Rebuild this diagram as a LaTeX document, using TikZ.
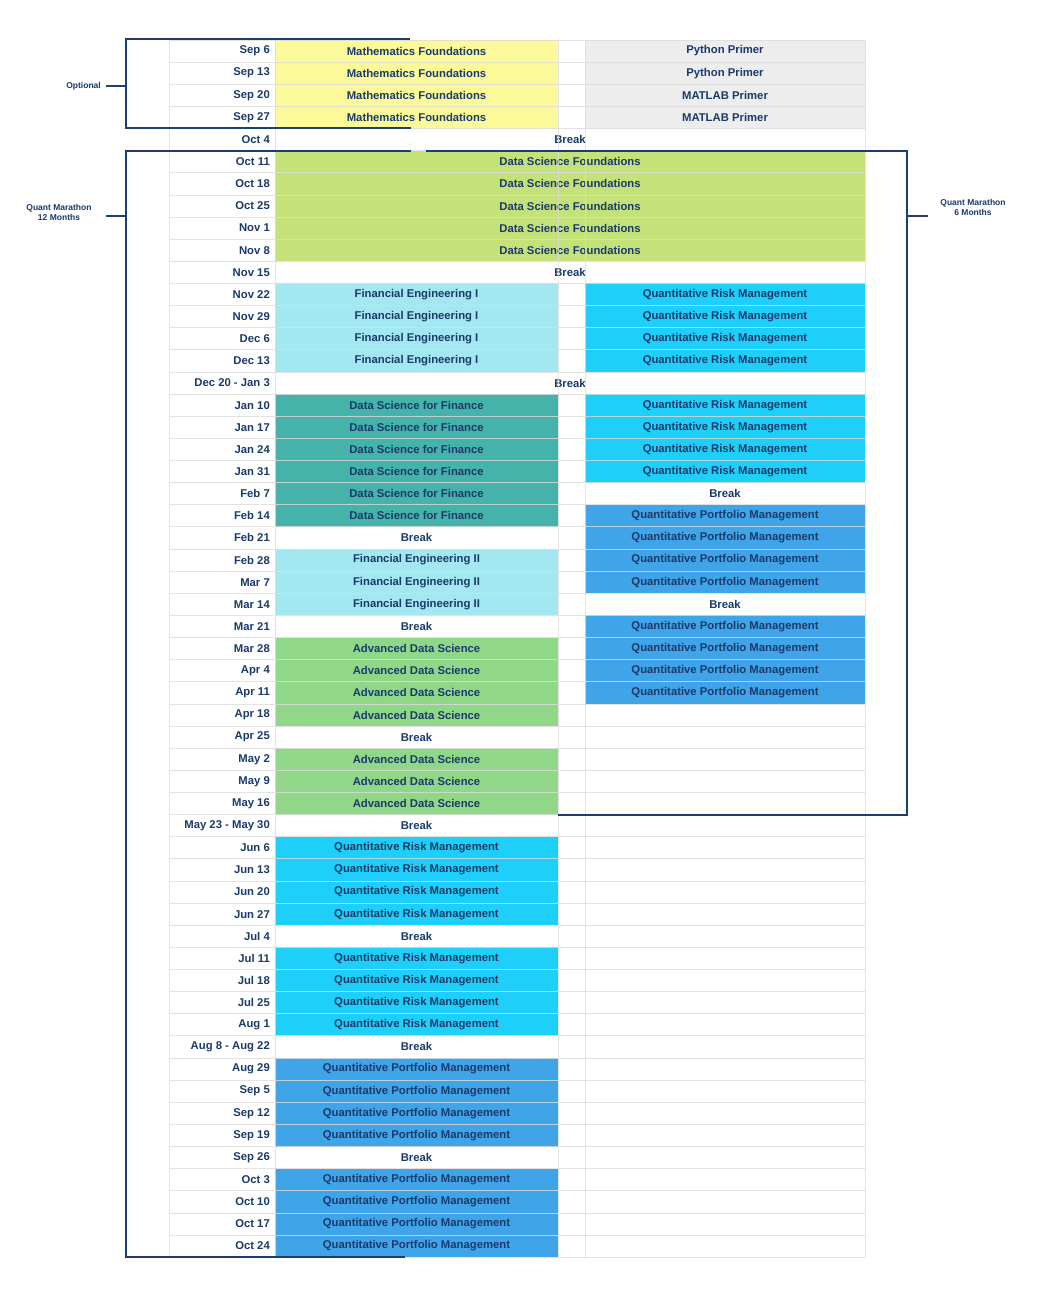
\documentclass[tikz,border=0pt]{standalone}
\usepackage{fontspec}
\setmainfont{Liberation Sans}
\definecolor{txt}{HTML}{1A3A6B}
\definecolor{cYel}{HTML}{FBF99A}
\definecolor{cGry}{HTML}{EDEDED}
\definecolor{cDSF}{HTML}{C5E17A}
\definecolor{cFE}{HTML}{A3E8F0}
\definecolor{cQRM}{HTML}{1DCFF9}
\definecolor{cDSfF}{HTML}{45B3AA}
\definecolor{cADS}{HTML}{90D888}
\definecolor{cQPM}{HTML}{3FA4E8}
\definecolor{grid}{HTML}{DCDCDC}
\definecolor{brk}{HTML}{1B3F6E}
\newcommand\ry[1]{{40+(#1-0.5)*22.13}}
\newcommand\cA[3]{\node[cell,fill=#2,minimum width=283pt] (a#1) at (416.5,\ry{#1}) {#3};}
\newcommand\cB[3]{\node[cell,fill=#2,minimum width=280pt] (b#1) at (725,\ry{#1}) {#3};}
\newcommand\cAll[3]{\node[cell,fill=#2,minimum width=590pt] (c#1) at (570,\ry{#1}) {#3};}
\begin{document}
\begin{tikzpicture}[x=1pt,y=-1pt,
  cell/.style={inner sep=0pt,minimum height=22.13pt,text=txt,font=\fontsize{11.3}{13}\selectfont\bfseries},
  datel/.style={anchor=east,inner sep=0pt,text=txt,font=\fontsize{11.3}{13}\selectfont\bfseries},
  side/.style={align=center,text=txt,inner sep=0pt,font=\fontsize{8.5}{10}\selectfont\bfseries},
  brack/.style={draw=brk,line width=1.6pt}]
\useasboundingbox (0,0) rectangle (1046,1292);
\fill[white] (0,0) rectangle (1046,1292);
% cells
\foreach \i/\t in {1/Python Primer,2/Python Primer,3/MATLAB Primer,4/MATLAB Primer}{\cA{\i}{cYel}{Mathematics Foundations}\cB{\i}{cGry}{\t}}
\foreach \i in {5,11,16}{\cAll{\i}{white}{Break}}
\foreach \i in {6,...,10}{\cAll{\i}{cDSF}{Data Science Foundations}}
\foreach \i in {12,...,15}{\cA{\i}{cFE}{Financial Engineering I}\cB{\i}{cQRM}{Quantitative Risk Management}}
\foreach \i in {17,...,22}{\cA{\i}{cDSfF}{Data Science for Finance}}
\foreach \i in {17,...,20}{\cB{\i}{cQRM}{Quantitative Risk Management}}
\foreach \i in {21,26}{\cB{\i}{white}{Break}}
\foreach \i in {22,...,25,27,28,29,30}{\cB{\i}{cQPM}{Quantitative Portfolio Management}}
\foreach \i in {23,27,32,36,41,46,51}{\cA{\i}{white}{Break}}
\foreach \i in {24,25,26}{\cA{\i}{cFE}{Financial Engineering II}}
\foreach \i in {28,...,31,33,34,35}{\cA{\i}{cADS}{Advanced Data Science}}
\foreach \i in {37,...,40,42,43,44,45}{\cA{\i}{cQRM}{Quantitative Risk Management}}
\foreach \i in {47,...,50,52,53,54,55}{\cA{\i}{cQPM}{Quantitative Portfolio Management}}
% dates
\foreach \i/\d in {1/Sep 6,2/Sep 13,3/Sep 20,4/Sep 27,5/Oct 4,6/Oct 11,7/Oct 18,8/Oct 25,9/Nov 1,10/Nov 8,11/Nov 15,12/Nov 22,13/Nov 29,14/Dec 6,15/Dec 13,16/Dec 20 - Jan 3,17/Jan 10,18/Jan 17,19/Jan 24,20/Jan 31,21/Feb 7,22/Feb 14,23/Feb 21,24/Feb 28,25/Mar 7,26/Mar 14,27/Mar 21,28/Mar 28,29/Apr 4,30/Apr 11,31/Apr 18,32/Apr 25,33/May 2,34/May 9,35/May 16,36/May 23 - May 30,37/Jun 6,38/Jun 13,39/Jun 20,40/Jun 27,41/Jul 4,42/Jul 11,43/Jul 18,44/Jul 25,45/Aug 1,46/Aug 8 - Aug 22,47/Aug 29,48/Sep 5,49/Sep 12,50/Sep 19,51/Sep 26,52/Oct 3,53/Oct 10,54/Oct 17,55/Oct 24}
  {\node[datel] (d\i) at (270,\ry{\i}) {\d};}
% grid
\foreach \i in {0,...,55}{\draw[grid,line width=0.8pt,opacity=0.8] (169,{40+\i*22.13}) -- (865,{40+\i*22.13});}
\foreach \x in {169,275,558,585,865}{\draw[grid,line width=0.8pt,opacity=0.8] (\x,40) -- (\x,1257);}
% brackets
\draw[brack] (410,39) -- (126,39) -- (126,128) -- (411,128);
\draw[brack] (411,151) -- (126,151) -- (126,1257) -- (405,1257);
\draw[brack] (426,151) -- (907,151) -- (907,815) -- (558,815);
\coordinate (o1) at (106,86); \coordinate (o2) at (126,86);
\coordinate (q1) at (106,216); \coordinate (q2) at (126,216);
\coordinate (s1) at (907,216); \coordinate (s2) at (928,216);
\draw[brack] (o1) -- (o2); \draw[brack] (q1) -- (q2); \draw[brack] (s1) -- (s2);
\node[side,anchor=east] (lopt) at (101,86) {Optional};
\node[side] (l12) at (59,212) {Quant Marathon\\12 Months};
\node[side] (l6) at (973,207) {Quant Marathon\\6 Months};
\end{tikzpicture}
\end{document}
